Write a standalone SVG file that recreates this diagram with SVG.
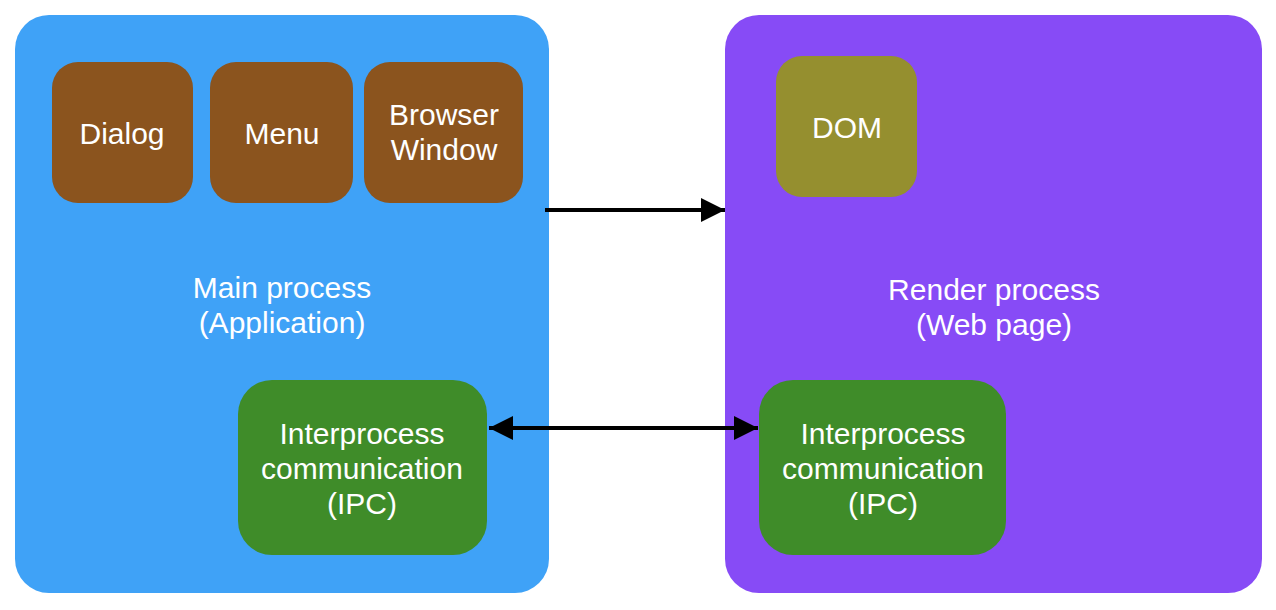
<svg xmlns="http://www.w3.org/2000/svg" width="1276" height="610" viewBox="0 0 1276 610">
<defs>
<style>
text{font-family:"Liberation Sans",Arial,sans-serif;font-size:30px;fill:#fff;text-anchor:middle}
.line{stroke:#000;stroke-width:4;fill:none}
</style>
<marker id="ah" viewBox="0 0 24 24" refX="24" refY="12" markerWidth="24" markerHeight="24" markerUnits="userSpaceOnUse" orient="auto-start-reverse">
<path d="M0,0 L24,12 L0,24 Z" fill="#000"/>
</marker>
</defs>
<rect width="1276" height="610" fill="#fff"/>
<g id="main">
<rect x="15" y="15" width="534" height="578" rx="34" fill="#3FA2F7"/>
<text x="282" y="298">Main process</text>
<text x="282" y="333">(Application)</text>
</g>
<g id="render">
<rect x="725" y="15" width="537" height="578" rx="34" fill="#874BF6"/>
<text x="994" y="300">Render process</text>
<text x="994" y="335">(Web page)</text>
</g>
<g id="dialog">
<rect x="52" y="62" width="141" height="141" rx="26" fill="#8B541E"/>
<text x="122" y="144">Dialog</text>
</g>
<g id="menu">
<rect x="210" y="62" width="143" height="141" rx="26" fill="#8B541E"/>
<text x="282" y="144">Menu</text>
</g>
<g id="browser">
<rect x="364" y="62" width="159" height="141" rx="26" fill="#8B541E"/>
<text x="444" y="125">Browser</text>
<text x="444" y="160">Window</text>
</g>
<g id="dom">
<rect x="776" y="56" width="141" height="141" rx="26" fill="#958F2F"/>
<text x="847" y="138">DOM</text>
</g>
<g id="ipc-main">
<rect x="238" y="380" width="249" height="175" rx="34" fill="#3F8C29"/>
<text x="362" y="444">Interprocess</text>
<text x="362" y="479">communication</text>
<text x="362" y="514">(IPC)</text>
</g>
<g id="ipc-render">
<rect x="759" y="380" width="247" height="175" rx="34" fill="#3F8C29"/>
<text x="883" y="444">Interprocess</text>
<text x="883" y="479">communication</text>
<text x="883" y="514">(IPC)</text>
</g>
<g id="connectors">
<line class="line" x1="545" y1="210" x2="725" y2="210" marker-end="url(#ah)"/>
<line class="line" x1="489" y1="428" x2="758" y2="428" marker-start="url(#ah)" marker-end="url(#ah)"/>
</g>
</svg>
